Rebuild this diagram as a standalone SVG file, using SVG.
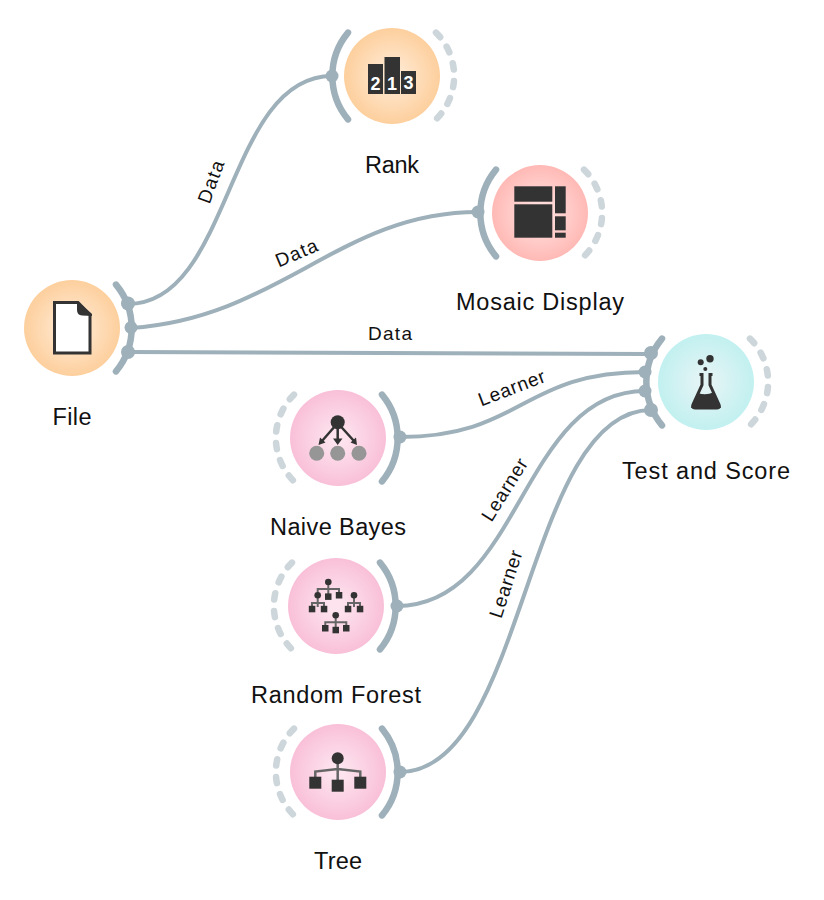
<svg xmlns="http://www.w3.org/2000/svg" width="824" height="900" viewBox="0 0 824 900">
<style>
text{font-family:"Liberation Sans",Arial,sans-serif;fill:#111}
.t{font-size:23.500px;text-anchor:middle}
.l{font-size:19px;text-anchor:middle}
.c{fill:none;stroke:#9eb0ba;stroke-width:4;stroke-linecap:round}
.a{fill:none;stroke:#9eb0ba;stroke-width:6.500;stroke-linecap:round}
.d{fill:none;stroke:#cdd6da;stroke-width:6.500;stroke-linecap:round;stroke-dasharray:6.300 11.400}
.p{fill:#9eb0ba}
.i{fill:#333}
.s{stroke:#666;stroke-width:2;fill:none}
.w{font-size:18px;font-weight:bold;text-anchor:middle;fill:#fff}
</style>
<defs>
<radialGradient id="go"><stop offset="0.150" stop-color="#ffe9d2"/><stop offset="1" stop-color="#fdcf9d"/></radialGradient>
<radialGradient id="gp"><stop offset="0.150" stop-color="#fde3ee"/><stop offset="1" stop-color="#f9c0d8"/></radialGradient>
<radialGradient id="gr"><stop offset="0.150" stop-color="#ffe0de"/><stop offset="1" stop-color="#ffb9b5"/></radialGradient>
<radialGradient id="gc"><stop offset="0.150" stop-color="#e3f4f5"/><stop offset="1" stop-color="#c2f0f0"/></radialGradient>
</defs>
<g id="connectors">
<path class="c" d="M128,304C232,304 226,76 332,76"/>
<path class="c" d="M131,328C280,318 340,212 478,212"/>
<path class="c" d="M128,352L651,354"/>
<path class="c" d="M400,437C522,437 522,372 645,372"/>
<path class="c" d="M397,606C521,606 521,391 645,391"/>
<path class="c" d="M400,772C525.500,772 525.500,410 651,410"/>
<text class="l" textLength="44" transform="translate(217,184) rotate(-70)">Data</text>
<text class="l" textLength="44" transform="translate(299,259) rotate(-23)">Data</text>
<text class="l" textLength="44" x="390" y="340">Data</text>
<text class="l" textLength="70" transform="translate(514,394) rotate(-21)">Learner</text>
<text class="l" textLength="70" transform="translate(510,493) rotate(-58)">Learner</text>
<text class="l" textLength="70" transform="translate(512,586) rotate(-72)">Learner</text>
</g>
<g id="file">
<circle cx="72" cy="328" r="48" fill="url(#go)"/>
<path class="a" d="M116,284.600A68,68 0 0 1 116,371.400"/>
<circle class="p" cx="128" cy="303.500" r="7"/><circle class="p" cx="131" cy="327.500" r="6.500"/><circle class="p" cx="128" cy="352" r="7"/>
<path d="M54.500,302.500H78L90,314.500V353H54.500Z" fill="#fff" stroke="#333" stroke-width="3"/>
<path class="i" d="M77,301L92,314V316L82,315.500Q77,315 77,310Z"/>
<text class="t" textLength="39" x="72" y="425">File</text>
</g>
<g id="rank">
<circle cx="392" cy="76" r="48" fill="url(#go)"/>
<path class="a" d="M348,32.600A68,68 0 0 0 348,119.400"/>
<path class="d" d="M436,32.600A61,61 0 0 1 436,119.400"/>
<circle class="p" cx="332" cy="76" r="6.500"/>
<rect class="i" x="368" y="64" width="15" height="30"/><rect class="i" x="384.500" y="57" width="15.500" height="37"/><rect class="i" x="401" y="71" width="15" height="23"/>
<text class="w" x="375.500" y="90">2</text>
<text class="w" x="392" y="90">1</text>
<text class="w" x="408.500" y="89">3</text>
<text class="t" textLength="54" x="392" y="173">Rank</text>
</g>
<g id="mosaic">
<circle cx="540" cy="213" r="48" fill="url(#gr)"/>
<path class="a" d="M496,169.600A68,68 0 0 0 496,256.400"/>
<path class="d" d="M584,169.600A61,61 0 0 1 584,256.400"/>
<circle class="p" cx="478" cy="212" r="6.500"/>
<rect class="i" x="514.300" y="186.300" width="38" height="15.400"/><rect class="i" x="514.300" y="204.300" width="38" height="33.400"/>
<rect class="i" x="555" y="186.300" width="10.700" height="27"/><rect class="i" x="555" y="216.300" width="10.700" height="14"/><rect class="i" x="555" y="232.700" width="10.700" height="5"/>
<text class="t" textLength="168" x="540" y="310">Mosaic Display</text>
</g>
<g id="test-and-score">
<circle cx="706" cy="382" r="48" fill="url(#gc)"/>
<path class="a" d="M662,338.600A68,68 0 0 0 662,425.400"/>
<path class="d" d="M750,338.600A61,61 0 0 1 750,425.400"/>
<circle class="p" cx="651" cy="353" r="7"/><circle class="p" cx="645" cy="372" r="6.500"/><circle class="p" cx="645" cy="391" r="6.500"/><circle class="p" cx="651" cy="410" r="7"/>
<circle class="i" cx="710" cy="358.700" r="3.700"/><circle class="i" cx="700.700" cy="362.300" r="3"/><circle class="i" cx="705.300" cy="369" r="2"/>
<path d="M699.500,374.500H702V385L693,404.500Q691.500,408 695,408H717Q720.500,408 719,404.500L710,385V374.500H712.500" fill="none" stroke="#333" stroke-width="3"/>
<path class="i" d="M698,393Q706,396 714,392L721,408H691Z"/>
<text class="t" textLength="168" x="706" y="479">Test and Score</text>
</g>
<g id="naive-bayes">
<circle cx="338" cy="438" r="48" fill="url(#gp)"/>
<path class="a" d="M382,394.600A68,68 0 0 1 382,481.400"/>
<path class="d" d="M294,394.600A61,61 0 0 0 294,481.400"/>
<circle class="p" cx="400" cy="437" r="6.500"/>
<circle cx="316.700" cy="453.300" r="7.500" fill="#969696"/><circle cx="337.700" cy="453.300" r="7.500" fill="#969696"/><circle cx="359" cy="453.300" r="7.500" fill="#969696"/>
<path d="M337.700,423L322,441M337.700,423V441M337.700,423L354,441" stroke="#333" stroke-width="2.500" fill="none"/>
<path class="i" d="M318.500,445L320,437.500L325.500,442.500ZM337.700,445L333,438.500H342.500ZM357,445L350.500,442.500L356,437.500Z"/>
<circle class="i" cx="337.700" cy="422.300" r="7"/>
<text class="t" textLength="136" x="338" y="535">Naive Bayes</text>
</g>
<g id="random-forest">
<circle cx="336" cy="606" r="48" fill="url(#gp)"/>
<path class="a" d="M380,562.600A68,68 0 0 1 380,649.400"/>
<path class="d" d="M292,562.600A61,61 0 0 0 292,649.400"/>
<circle class="p" cx="397" cy="606" r="6.500"/>
<path class="s" d="M328.300,582V594M317.700,594V589H339V593M317.700,596V607M312,607V603H324V607M354,596V607M348,607V603H360V607M335.700,616V630M325.300,626V622.300H346.300V626"/>
<circle class="i" cx="328.300" cy="582" r="3.300"/><circle class="i" cx="317.700" cy="595.300" r="3.300"/><circle class="i" cx="354" cy="595.300" r="3.300"/><circle class="i" cx="335.700" cy="615.300" r="3.300"/>
<rect class="i" x="325" y="593.400" width="6.500" height="6.500"/><rect class="i" x="335.800" y="592" width="6.500" height="6.500"/>
<rect class="i" x="308.800" y="605.800" width="6.500" height="6.500"/><rect class="i" x="320.800" y="605.800" width="6.500" height="6.500"/><rect class="i" x="344.800" y="605.800" width="6.500" height="6.500"/><rect class="i" x="356.800" y="605.800" width="6.500" height="6.500"/>
<rect class="i" x="322" y="625" width="6.500" height="6.500"/><rect class="i" x="332.500" y="626.800" width="6.500" height="6.500"/><rect class="i" x="343" y="625" width="6.500" height="6.500"/>
<text class="t" textLength="170" x="336" y="703">Random Forest</text>
</g>
<g id="tree">
<circle cx="338" cy="772" r="48" fill="url(#gp)"/>
<path class="a" d="M382,728.600A68,68 0 0 1 382,815.400"/>
<path class="d" d="M294,728.600A61,61 0 0 0 294,815.400"/>
<circle class="p" cx="400" cy="772" r="6.500"/>
<path d="M337.700,758V782M315.300,778V771.500L337.700,769L360.300,771.500V778" stroke="#666" stroke-width="2.500" fill="none"/>
<circle class="i" cx="337.700" cy="758.300" r="6"/>
<rect class="i" x="309.300" y="776.700" width="12" height="12"/><rect class="i" x="331.700" y="779.700" width="12" height="12"/><rect class="i" x="354.300" y="776.700" width="12" height="12"/>
<text class="t" textLength="48" x="338" y="869">Tree</text>
</g>
</svg>
